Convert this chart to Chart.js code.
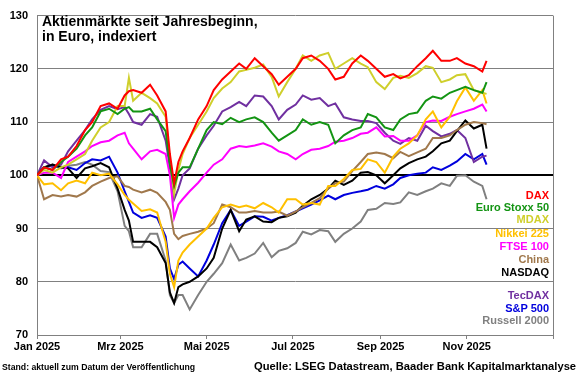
<!DOCTYPE html>
<html><head><meta charset="utf-8">
<script src="https://cdn.jsdelivr.net/npm/chart.js@4.4.1/dist/chart.umd.min.js"></script>
<style>
html,body{margin:0;padding:0;background:#fff;}
#wrap{position:relative;width:580px;height:375px;font-family:"Liberation Sans",Arial,sans-serif;overflow:hidden;}
canvas{position:absolute;left:0;top:0;}
.t{position:absolute;white-space:nowrap;font-weight:bold;color:#000;}
.lg{position:absolute;right:31px;white-space:nowrap;font-weight:bold;font-size:11px;line-height:12px;text-align:right;}
</style></head><body>
<div id="wrap">
<canvas id="c" width="580" height="375"></canvas>
<div class="t" style="left:42px;top:14px;font-size:14px;line-height:15px;">Aktienmärkte seit Jahresbeginn,<br>in Euro, indexiert</div>
<div id="legend"></div>
<div class="t" style="left:2px;top:362px;font-size:8.7px;line-height:10px;">Stand: aktuell zum Datum der Veröffentlichung</div>
<div class="t" style="left:254px;top:360px;font-size:11.2px;line-height:12px;">Quelle: LSEG Datastream, Baader Bank Kapitalmarktanalyse</div>
</div>
<script>
// Day of year 2025 (0 = 1 Jan)
const days = [0,5,11,17,22,28,34,39,45,51,57,62,65,68,74,80,85,91,94,97,100,103,108,114,120,125,131,137,143,148,154,160,166,171,177,183,188,194,200,206,211,217,223,229,234,240,246,252,257,263,269,275,280,286,292,297,303,309,315,318];

const seriesNames = ['DAX','Euro Stoxx 50','MDAX','Nikkei 225','FTSE 100','China','NASDAQ','TecDAX','S&P 500','Russell 2000'];

const dax = [100,101.5,101,103,103.5,105.5,108.5,110,113,113.5, 112.5,115,115.8,116,115.5,117,115,112,104,98.5,102.5, 104.5,107,110.5,113,116,118,119.5,121,120,122, 120.5,119,117,118.5,120,122,122.5,121.5,120,118, 118.5,121,122.5,121.5,120,118.5,119,118.2,118.8,120.5, 122,123.4,121.5,121.5,122,121,120.5,119.5,121.5];
const euroStoxx50 = [100,101.5,101,102.5,103.5,105,107.5,109,112,112.5, 111.5,112.5,112.8,112,112,112.5,110.5,108.3,102,98,100.5, 101.5,101.5,105,108.5,110,109.6,110.8,110,110.5,110.9, 110,108,106.5,107.5,108.5,110.5,109.5,110,109.5,106, 107.5,108.5,109,111.5,110.9,109,108.5,110.5,111.5,111.8, 114,114.8,114.4,115.5,116,116.6,116,115.5,117.5];
const mdax = [100,101,100.5,101.5,102,103,104,106.5,109,110, 113,113,118.3,114,115.5,114.5,113.5,111,103,96.5,101, 104,107,109.5,112,114.5,116.3,117.5,119.5,119.8,120.2, 120.8,118.5,114.8,117.5,120,122.5,121.5,122.5,123,120, 121,122,121,120.3,117.5,116.2,118.3,118.7,118.3,119.2, 120.5,120.2,117.5,118,118.8,119,116,115.5,115.3];
const nikkei225 = [100,98.3,98.5,97.2,98.5,99,98.5,100.5,100,100.3, 98.3,96.3,95.4,94.7,93.3,93.6,93,87.5,81.5,79,84, 85.5,87,88.5,90,92,94,94.5,94,94.3,93.8, 94.8,94,93,95.5,95.5,94.5,94.8,94.5,98,98, 99.3,101,101.2,103,102.5,100.5,103.5,105,106,107.5, 110.5,112,109,111,113.9,116.5,114,116,113.5];
const ftse100 = [100,100.5,100.5,99.5,102.5,103.5,104.5,105.5,106.2,106.5, 107.5,108,106,105,103,104.5,104.8,104,100,92,94.5, 95.5,97,98.6,100.5,102,103,105,105.5,105.3,105.6, 106,105.4,104.5,104,103,104,104.8,105,105.5,106.3, 106.5,107,107.8,108,109,107.3,107.4,106.5,106.5,107.5, 110,110.3,110.2,111,111.5,112,112.5,113.3,112];
const china = [100,95.5,96.3,96,96.3,96,96.8,98,98.8,99.5, 99.8,98,97.8,97.3,96.8,97.3,96.7,95,93.5,89,88, 88.6,89,89.4,90,91,94.5,94,93,93,93.3, 93,93,93.2,92.4,93.2,94,94.8,95.7,97.5,98.5, 98.8,100.8,102.5,104,104.3,104,103.2,104.4,103.6,104.3, 105,107,107,107.5,108.5,109.5,110,109.8,109.6];
const nasdaq = [100,101.5,102,101.5,101.3,99.5,101.3,101.7,102.3,101.5, 97.5,93.5,91.5,87.5,87.5,87.5,86.5,83.5,78,76,79, 79.5,80,81,82.5,84.5,90,93.5,89.5,91.7,92.3, 91.3,91.2,92,92.3,93,94.3,95.5,96.3,97.5,99, 98.2,99,100.5,100.6,100,98.5,100,101.3,102.3,103, 103.5,104.5,106,106.5,108.3,110.3,108.8,109.5,105];
const tecdax = [100,102.8,101.5,102,104.5,106.5,108.5,110.5,112.3,113, 112.4,112.8,111.5,110,109.5,111.5,111,106.5,101.5,95.5,97.5, 100,101.3,105,107.5,109.3,112,112.8,113.8,113,115, 114.8,113,110.5,112.3,113.3,115,114.2,114.5,113,113.5, 110.9,110.5,110.2,110.2,109.8,108,106.5,105.9,107,106.5, 109.3,108.3,107.3,107.8,108.5,107,102.5,103.5,103.7];
const sp500 = [100,101.5,101.8,101.5,101.5,101,102.3,103,102.8,103.5, 100.5,97,95,93,92,92.5,92,88.5,82.5,80.5,83.2, 83.8,82.5,81,84,87,91,93.5,90.5,91.3,92.3, 92.2,91.5,92,92.5,93.2,93.8,94.5,95.3,96.2,95.5, 96.3,96.7,97,97.3,98,97.5,98.3,99.5,100,100.3, 100.5,101.5,101,101.8,102.6,104,103,104,102];
const russell2000 = [100,101.5,102,101.3,101.8,102,102.5,102,100.8,100.6, 97,90.5,89.5,86.5,86.5,89,89,84,77.5,76,77.5, 77.5,74.8,77.5,80,81.5,83.5,87,84,84.5,85.3, 87.3,84.6,85.8,86.3,87.3,89.4,88.9,89.7,89.5,87.5, 89,90,91.3,93.5,93.7,94.8,94.6,94.9,96.8,96.3, 97,97.5,98.5,98,99.9,100,98.8,98,95.5];

const xTickDays = [0,59,120,181,243,304,365];
const xTickLabels = ['Jan 2025','Mrz 2025','Mai 2025','Jul 2025','Sep 2025','Nov 2025',''];
const yTicks = [70,80,90,100,110,120,130];

const seriesValues = [dax,euroStoxx50,mdax,nikkei225,ftse100,china,nasdaq,tecdax,sp500,russell2000];
const colors = ['#FF0000','#139413','#CFCF2C','#FFC000','#FF00FF','#A0784C','#000000','#7030A0','#0000DD','#808080'];
const legendY = [195,207,219,233,246,259,272,295,307.5,320];

const FONT = '"Liberation Sans", Arial, sans-serif';

const datasets = seriesNames.map((name,k)=>({
  label: name,
  data: days.map((d,i)=>({x:d, y:seriesValues[k][i]})),
  borderColor: colors[k],
  backgroundColor: colors[k],
  borderWidth: 2,
  pointRadius: 0,
  tension: 0,
  fill: false
}));

const chart = new Chart(document.getElementById('c'), {
  type: 'line',
  data: { datasets },
  options: {
    responsive: false,
    devicePixelRatio: 1,
    animation: false,
    layout: { padding: { top: 10, right: 27, left: 0, bottom: 0 } },
    plugins: { legend: { display: false }, tooltip: { enabled: false } },
    scales: {
      x: {
        type: 'linear', min: 0, max: 365,
        afterBuildTicks: s => { s.ticks = xTickDays.map(v => ({ value: v })); },
        afterFit: s => { s.height = 40; },
        ticks: {
          autoSkip: false, maxRotation: 0, padding: 1,
          color: '#000', font: { family: FONT, size: 11, weight: 'bold' },
          callback: (v, i) => xTickLabels[i]
        },
        grid: {
          drawOnChartArea: true, drawTicks: true, tickLength: 4,
          color: c => (c.tick && c.tick.value === 365) ? '#808080' : 'rgba(0,0,0,0)',
          tickColor: '#808080', lineWidth: 1
        },
        border: { color: '#808080', width: 1 }
      },
      y: {
        min: 70, max: 130,
        afterBuildTicks: s => { s.ticks = yTicks.map(v => ({ value: v })); },
        afterFit: s => { s.width = 37; },
        ticks: { padding: 9, color: '#000', font: { family: FONT, size: 11, weight: 'bold' } },
        grid: {
          drawTicks: false,
          color: c => (c.tick && c.tick.value === 100) ? '#000000' : '#808080',
          lineWidth: c => (c.tick && c.tick.value === 100) ? 2 : 1
        },
        border: { color: '#808080', width: 1 }
      }
    }
  }
});

// HTML legend built from the chart's datasets
const lg = document.getElementById('legend');
chart.data.datasets.forEach((ds, k) => {
  const d = document.createElement('div');
  d.className = 'lg';
  d.style.top = (legendY[k] - 6) + 'px';
  d.style.color = ds.borderColor;
  d.textContent = ds.label;
  lg.appendChild(d);
});
</script>
</body></html>
